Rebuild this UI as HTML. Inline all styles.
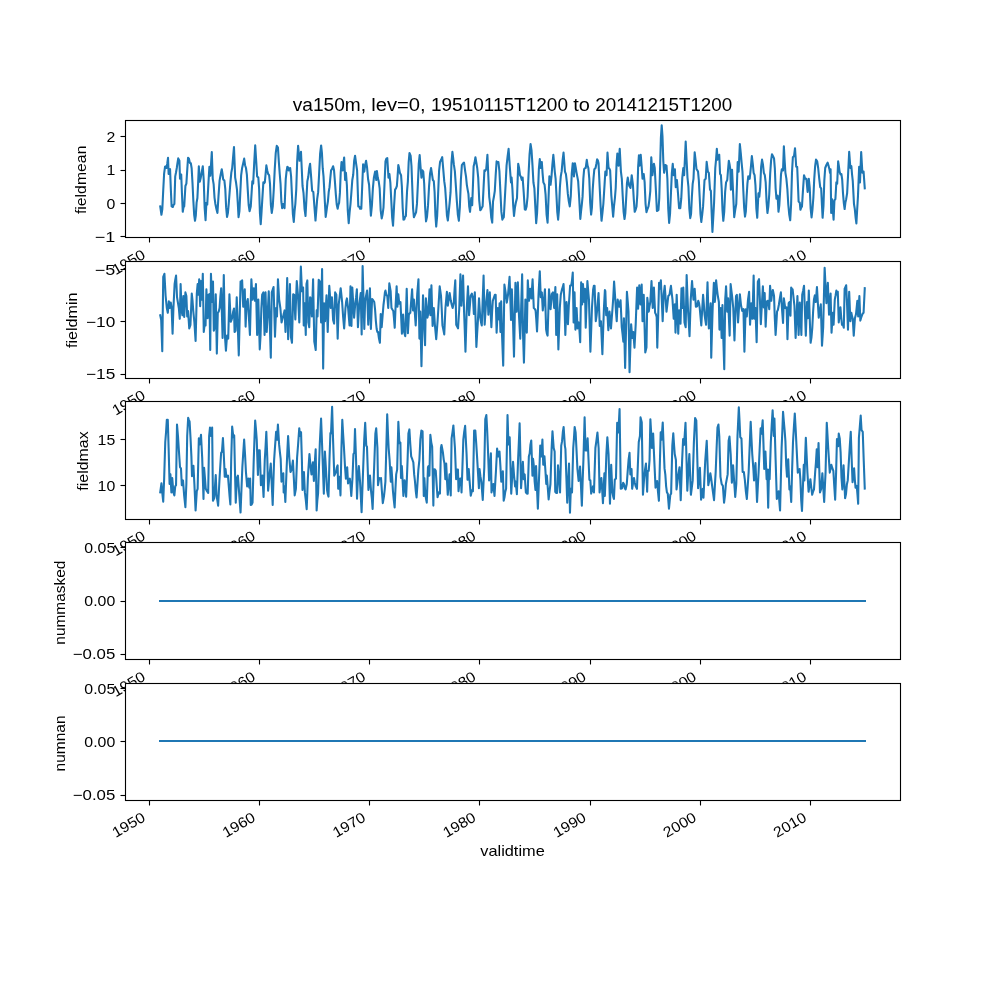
<!DOCTYPE html>
<html lang="en"><head><meta charset="utf-8"><title>va150m</title>
<style>
html,body{margin:0;padding:0;background:#fff;}
body{width:1000px;height:1000px;overflow:hidden;}
svg{display:block;}
text{font-family:"Liberation Sans",sans-serif;fill:#000;}
.g{filter:grayscale(1);}
.t{font-size:14.6px;}
.tt{font-size:17.5px;}
.sp{fill:none;stroke:#000;stroke-width:1.111;stroke-linecap:square;}
.tk{stroke:#000;stroke-width:1.111;}
.ln{fill:none;stroke:#1f77b4;stroke-width:2.083;stroke-linejoin:round;stroke-linecap:square;}
</style></head>
<body>
<svg width="1000" height="1000" viewBox="0 0 1000 1000">
<rect x="0" y="0" width="1000" height="1000" fill="#fff"/>
<g>
<rect x="125.00" y="120.00" width="775.00" height="117.24" fill="#fff"/>
<polyline class="ln" points="160.23,206.40 161.43,214.80 162.33,209.06 163.23,190.25 164.12,173.52 165.02,166.80 165.74,166.43 166.46,168.00 167.24,163.68 168.02,157.80 168.62,174.00 169.34,169.53 170.06,169.20 170.84,189.37 171.62,206.40 172.82,207.00 173.60,204.81 174.38,204.00 175.22,176.40 176.00,172.49 176.78,168.00 177.50,162.98 178.22,158.40 179.41,160.80 180.01,178.80 181.21,174.60 181.99,194.52 182.77,211.80 183.49,207.25 184.21,206.40 185.41,186.00 186.37,183.60 187.21,170.41 188.05,157.80 188.97,158.79 189.89,162.89 190.81,163.20 191.65,168.25 192.49,182.70 193.33,200.36 194.17,214.80 195.00,220.80 195.80,215.70 196.60,202.63 197.40,198.00 198.12,183.13 198.84,166.20 199.80,181.80 200.70,178.11 201.60,172.80 202.80,166.20 203.72,179.98 204.64,207.69 205.56,220.20 206.40,202.80 207.24,204.60 208.32,185.08 209.40,166.80 210.35,175.80 211.07,163.87 211.79,152.16 212.75,178.80 213.63,184.18 214.51,197.54 215.39,204.00 216.41,208.98 217.43,213.00 218.51,196.18 219.59,180.60 220.67,174.54 221.75,169.20 222.47,173.68 223.19,179.40 224.39,180.60 225.27,188.81 226.14,207.38 227.02,216.96 227.88,213.03 228.74,203.87 229.60,192.69 230.46,181.57 231.32,172.59 232.18,168.00 233.08,157.33 233.98,147.00 235.18,177.60 236.08,182.80 236.98,189.60 237.76,202.73 238.54,217.20 239.41,211.43 240.28,192.95 241.14,175.32 242.01,168.60 243.09,163.79 244.17,158.64 245.07,165.21 245.97,168.00 246.87,174.59 247.77,190.16 248.67,204.99 249.57,211.20 250.77,206.40 251.55,193.48 252.33,181.20 253.17,183.60 254.19,163.37 255.21,145.20 256.17,160.49 257.12,176.40 258.32,177.60 259.12,188.90 259.92,213.20 260.72,224.16 261.44,213.64 262.16,201.60 263.36,182.40 264.08,183.24 264.80,182.40 265.58,174.14 266.36,165.36 267.26,170.48 268.16,174.00 269.12,175.20 270.00,183.85 270.88,204.80 271.76,213.00 272.75,206.41 273.75,189.80 274.75,169.17 275.75,152.78 276.75,145.80 277.95,147.60 278.85,161.82 279.75,174.00 280.55,183.81 281.35,201.73 282.15,208.20 283.35,204.00 284.55,208.20 285.75,178.80 286.53,171.54 287.31,166.80 288.02,167.30 288.74,170.40 289.46,168.75 290.18,168.00 291.08,176.24 291.98,195.79 292.88,214.18 293.78,222.00 294.56,211.18 295.34,204.00 296.26,189.36 297.18,160.90 298.10,145.80 298.82,153.51 299.54,160.80 300.26,156.99 300.98,151.80 301.76,168.70 302.54,186.00 303.53,193.22 304.53,208.77 305.53,216.00 306.43,198.97 307.33,181.20 308.25,177.09 309.17,168.20 310.09,163.80 311.11,176.70 312.13,190.80 313.33,192.00 314.41,206.62 315.49,220.56 316.33,209.99 317.17,199.20 318.16,192.15 319.14,173.40 320.13,153.67 321.12,145.44 321.92,152.74 322.72,168.19 323.52,176.40 324.60,197.06 325.68,216.96 326.40,211.75 327.12,206.40 327.92,201.35 328.72,191.98 329.52,187.20 330.30,178.24 331.08,170.40 332.10,168.93 333.12,166.20 334.03,170.27 334.94,181.84 335.85,194.63 336.76,204.87 337.67,208.80 338.39,204.81 339.11,202.80 339.91,192.89 340.71,172.73 341.51,162.00 342.71,170.40 343.43,163.06 344.15,157.44 345.11,180.00 345.95,172.80 346.87,185.00 347.79,210.79 348.71,223.20 349.60,212.36 350.50,204.00 351.40,192.28 352.30,180.00 353.22,174.78 354.14,160.97 355.06,155.76 356.08,163.40 357.10,170.40 358.30,206.40 359.20,206.42 360.10,208.80 361.30,208.80 362.20,186.57 363.10,164.40 364.30,171.60 365.19,164.75 366.09,160.80 367.09,167.73 368.09,179.25 369.09,184.80 369.99,200.26 370.89,215.76 371.89,205.65 372.89,188.16 373.89,177.60 375.09,171.60 376.29,180.00 376.89,171.00 377.79,177.87 378.69,181.20 379.69,188.71 380.68,210.33 381.68,218.40 382.58,214.46 383.48,207.60 384.48,184.80 385.48,161.40 386.38,158.70 387.28,158.16 388.48,177.60 389.44,174.00 390.34,182.52 391.24,199.64 392.14,217.32 393.04,225.60 394.06,206.49 395.08,189.60 395.98,188.30 396.87,186.00 397.59,176.21 398.31,165.00 399.09,168.34 399.87,172.80 401.07,175.20 401.87,186.62 402.67,207.62 403.47,219.60 404.27,219.43 405.07,216.93 405.87,216.00 407.07,190.80 407.87,181.31 408.67,162.23 409.47,153.00 410.67,156.00 411.48,165.96 412.28,187.28 413.09,208.50 413.90,217.20 414.98,214.92 416.06,212.40 416.96,203.88 417.86,184.34 418.76,163.96 419.66,155.16 420.56,166.99 421.46,177.60 422.42,170.40 423.26,171.60 424.18,183.61 425.10,206.92 426.02,221.40 427.02,216.73 428.03,205.15 429.04,186.62 430.05,173.51 431.05,168.00 431.95,173.88 432.85,180.00 433.81,181.20 434.61,192.28 435.41,215.38 436.21,226.56 437.17,215.87 438.13,193.81 439.09,170.79 440.05,162.00 441.13,159.82 442.21,157.20 443.22,168.93 444.24,181.20 445.14,187.55 446.04,200.72 446.94,215.54 447.84,220.56 448.74,211.87 449.64,202.80 450.56,192.19 451.48,162.68 452.40,151.80 453.12,157.52 453.84,164.40 454.85,171.13 455.85,185.92 456.86,201.33 457.87,214.92 458.87,220.80 459.87,206.83 460.87,179.97 461.87,165.00 462.95,163.54 464.03,162.60 465.23,171.60 466.03,176.65 466.83,184.87 467.63,189.60 468.43,193.93 469.23,206.60 470.03,211.80 471.23,198.00 472.19,205.20 472.91,186.15 473.63,166.20 474.52,162.86 475.42,157.20 476.32,162.50 477.22,168.00 478.22,177.87 479.22,200.32 480.22,210.24 481.02,209.51 481.82,207.60 482.62,206.40 483.52,188.33 484.42,170.40 485.32,170.84 486.22,169.20 487.42,154.80 488.32,176.13 489.22,196.80 490.21,204.88 491.21,217.23 492.21,222.60 493.01,201.60 493.91,196.79 494.81,190.80 495.71,174.64 496.61,161.40 497.51,162.24 498.41,162.00 499.40,171.02 500.39,191.53 501.38,211.90 502.37,219.60 503.09,218.04 503.81,217.20 505.00,195.60 505.78,181.34 506.56,165.60 507.58,156.69 508.60,148.80 509.80,166.80 511.00,182.40 511.60,177.60 512.40,188.83 513.20,205.33 514.00,216.00 514.90,207.82 515.80,202.80 517.00,198.00 518.20,163.80 519.10,168.01 520.00,175.20 520.89,176.80 521.79,180.00 522.63,177.60 523.71,192.49 524.79,209.40 525.69,209.66 526.59,206.40 527.58,196.75 528.57,173.99 529.56,154.36 530.55,144.00 531.51,150.13 532.47,165.09 533.43,182.53 534.39,188.40 535.29,206.36 536.18,223.20 537.08,213.18 537.98,192.37 538.88,168.75 539.78,159.00 540.74,168.00 541.82,162.00 542.60,173.66 543.38,182.40 544.58,184.80 545.58,194.58 546.58,214.68 547.58,222.60 548.48,199.60 549.38,176.40 550.58,184.80 551.49,176.30 552.41,164.41 553.33,154.80 554.05,162.71 554.77,171.60 555.61,178.62 556.45,194.97 557.29,212.22 558.13,219.60 559.01,209.16 559.89,187.24 560.77,176.40 561.69,171.13 562.61,160.12 563.53,152.64 564.25,162.01 564.97,171.60 565.93,174.14 566.88,182.41 567.84,193.93 568.80,201.24 569.76,206.40 570.76,196.48 571.76,173.41 572.76,163.20 573.96,176.40 574.92,163.20 575.64,167.12 576.36,171.60 577.26,176.40 578.16,181.20 579.24,198.84 580.32,219.00 581.04,211.32 581.76,205.20 582.55,196.92 583.35,178.64 584.15,169.20 584.93,168.20 585.71,168.00 586.79,159.84 587.57,165.55 588.35,168.00 589.27,178.31 590.19,202.76 591.11,214.56 591.92,207.55 592.73,189.37 593.54,177.75 594.35,169.20 595.55,168.00 596.33,164.01 597.11,159.36 597.83,160.34 598.54,163.20 599.74,188.40 600.64,206.45 601.54,220.80 602.44,212.93 603.34,204.00 604.34,188.19 605.34,171.60 606.54,175.20 607.50,152.64 608.58,168.00 609.36,168.65 610.14,170.40 611.34,195.60 612.24,206.20 613.14,216.60 614.03,205.93 614.93,198.00 615.73,187.76 616.53,164.22 617.33,153.60 618.53,165.60 619.73,148.80 620.93,171.60 621.83,178.83 622.73,196.38 623.63,212.15 624.53,219.00 625.34,213.03 626.15,198.55 626.96,183.15 627.77,177.60 628.55,182.55 629.32,186.00 630.52,187.80 631.72,175.20 632.92,184.80 633.82,199.69 634.72,211.80 635.62,209.78 636.52,206.40 637.32,194.61 638.12,167.19 638.92,155.40 639.52,165.60 640.72,154.80 641.62,166.02 642.52,178.80 643.72,174.00 644.63,182.12 645.55,203.85 646.47,212.16 647.49,209.05 648.51,206.40 649.41,199.86 650.31,190.80 651.27,157.20 652.47,175.20 653.19,168.80 653.91,163.80 654.75,168.00 655.83,189.09 656.91,210.96 657.69,210.57 658.47,210.00 659.28,198.05 660.08,167.45 660.89,137.77 661.70,125.33 662.50,136.66 663.30,161.12 664.10,172.80 665.30,165.00 666.50,165.60 667.38,178.75 668.26,208.88 669.14,222.96 670.04,213.92 670.94,193.33 671.84,173.12 672.74,163.80 673.70,175.20 674.90,169.20 675.73,187.20 676.93,180.00 678.01,193.49 679.09,208.20 680.29,208.20 681.29,198.21 682.29,177.65 683.29,168.00 684.13,175.20 684.91,158.78 685.69,141.60 686.59,160.31 687.49,177.60 688.41,186.75 689.33,208.68 690.25,218.16 691.05,214.12 691.86,197.16 692.67,183.96 693.48,178.80 694.68,152.40 695.58,160.01 696.48,169.20 697.26,170.15 698.04,171.60 698.85,180.62 699.66,196.81 700.47,213.81 701.28,222.00 702.18,214.76 703.08,206.40 703.80,192.66 704.52,180.00 705.72,178.80 706.67,161.76 707.87,171.60 708.83,172.80 710.03,189.60 710.87,190.80 711.65,212.51 712.43,231.91 713.25,217.77 714.07,202.80 715.27,168.00 716.05,159.65 716.83,148.80 717.67,159.60 718.45,156.60 719.23,154.80 720.07,174.00 720.91,175.20 721.71,189.18 722.50,210.29 723.30,220.80 724.22,211.91 725.14,191.83 726.06,182.40 727.26,180.00 728.04,169.75 728.82,160.80 729.54,164.22 730.26,169.20 730.86,189.60 732.06,169.80 733.14,193.38 734.22,217.20 735.24,209.88 736.26,204.00 736.98,183.25 737.69,162.00 738.65,171.60 739.85,144.00 740.75,152.86 741.65,163.20 742.49,171.77 743.33,190.76 744.17,207.95 745.01,216.60 745.82,211.64 746.63,196.29 747.44,183.47 748.25,176.40 748.97,177.99 749.69,178.80 750.77,168.41 751.85,156.00 752.75,163.50 753.64,172.80 754.60,175.20 755.48,185.61 756.36,208.60 757.24,217.80 758.44,193.20 759.28,196.80 760.20,187.07 761.12,166.94 762.04,159.60 762.94,164.45 763.84,172.80 764.80,175.20 765.68,182.27 766.56,201.77 767.44,213.00 768.35,206.46 769.26,194.09 770.17,173.87 771.08,160.66 771.99,154.20 773.01,156.20 774.03,158.40 774.83,168.33 775.63,188.53 776.43,198.60 777.63,195.60 778.47,211.80 779.31,205.25 780.15,190.92 780.99,174.53 781.83,169.20 783.03,170.40 783.87,146.40 784.64,160.51 785.42,172.80 786.38,178.60 787.34,188.80 788.30,204.75 789.26,214.60 790.22,220.20 791.10,204.17 791.98,172.88 792.86,157.20 794.06,156.00 795.02,148.20 796.22,166.80 797.18,166.80 797.90,184.03 798.62,201.60 799.81,202.80 800.41,209.76 801.19,207.68 801.97,206.40 802.99,190.19 804.01,175.20 805.21,178.80 806.41,178.80 807.61,192.00 808.81,178.80 809.73,187.83 810.65,208.75 811.57,217.44 812.45,209.62 813.34,198.02 814.23,179.12 815.12,166.32 816.00,159.60 817.20,161.40 818.20,168.23 819.20,178.33 820.20,187.20 821.16,188.40 821.88,203.63 822.60,217.80 823.47,205.80 824.33,180.31 825.20,168.00 826.40,165.00 827.60,162.60 828.50,165.48 829.40,169.20 830.00,172.80 830.60,169.20 831.19,213.00 832.15,199.20 832.87,210.17 833.59,219.60 834.43,200.40 835.39,199.20 836.35,182.40 837.19,183.60 838.15,161.40 838.87,166.13 839.59,171.60 840.49,174.45 841.39,174.00 842.20,179.76 843.01,193.44 843.82,203.08 844.63,209.04 845.41,202.54 846.18,199.20 847.14,193.20 848.16,173.14 849.18,151.80 850.38,168.00 851.34,166.20 852.06,174.47 852.78,181.20 853.98,204.00 854.78,208.83 855.58,217.26 856.38,223.44 857.16,209.72 857.94,196.80 859.14,166.80 859.98,182.40 861.18,152.16 862.37,172.80 863.57,171.60 864.77,188.40"/>
<line class="tk" x1="149.5" y1="237.50" x2="149.5" y2="242.50"/>
<line class="tk" x1="259.5" y1="237.50" x2="259.5" y2="242.50"/>
<line class="tk" x1="369.5" y1="237.50" x2="369.5" y2="242.50"/>
<line class="tk" x1="479.5" y1="237.50" x2="479.5" y2="242.50"/>
<line class="tk" x1="590.5" y1="237.50" x2="590.5" y2="242.50"/>
<line class="tk" x1="700.5" y1="237.50" x2="700.5" y2="242.50"/>
<line class="tk" x1="810.5" y1="237.50" x2="810.5" y2="242.50"/>
<line class="tk" x1="120.50" y1="236.5" x2="125.50" y2="236.5"/>
<line class="tk" x1="120.50" y1="203.5" x2="125.50" y2="203.5"/>
<line class="tk" x1="120.50" y1="170.5" x2="125.50" y2="170.5"/>
<line class="tk" x1="120.50" y1="136.5" x2="125.50" y2="136.5"/>
<rect class="sp" x="125.5" y="120.5" width="775.0" height="117.0"/>
<g class="g">
<text class="tt" y="110.9"><tspan x="292.75" textLength="73.20" lengthAdjust="spacingAndGlyphs">va150m,</tspan> <tspan x="371.24" textLength="54.45" lengthAdjust="spacingAndGlyphs">lev=0,</tspan> <tspan x="430.97" textLength="137.02" lengthAdjust="spacingAndGlyphs">19510115T1200</tspan> <tspan x="573.27" textLength="16.68" lengthAdjust="spacingAndGlyphs">to</tspan> <tspan x="595.23" textLength="137.02" lengthAdjust="spacingAndGlyphs">20141215T1200</tspan></text>
<text class="t" transform="translate(115.70,275.14) rotate(-30)" textLength="35.3" lengthAdjust="spacingAndGlyphs">1950</text>
<text class="t" transform="translate(225.92,275.14) rotate(-30)" textLength="35.3" lengthAdjust="spacingAndGlyphs">1960</text>
<text class="t" transform="translate(336.17,275.14) rotate(-30)" textLength="35.3" lengthAdjust="spacingAndGlyphs">1970</text>
<text class="t" transform="translate(446.38,275.14) rotate(-30)" textLength="35.3" lengthAdjust="spacingAndGlyphs">1980</text>
<text class="t" transform="translate(556.63,275.14) rotate(-30)" textLength="35.3" lengthAdjust="spacingAndGlyphs">1990</text>
<text class="t" transform="translate(666.85,275.14) rotate(-30)" textLength="35.3" lengthAdjust="spacingAndGlyphs">2000</text>
<text class="t" transform="translate(777.09,275.14) rotate(-30)" textLength="35.3" lengthAdjust="spacingAndGlyphs">2010</text>
<text class="t" x="115.28" y="241.99" text-anchor="end" textLength="20.47" lengthAdjust="spacingAndGlyphs">−1</text>
<text class="t" x="115.28" y="208.57" text-anchor="end" textLength="8.83" lengthAdjust="spacingAndGlyphs">0</text>
<text class="t" x="115.28" y="175.15" text-anchor="end" textLength="8.83" lengthAdjust="spacingAndGlyphs">1</text>
<text class="t" x="115.28" y="141.72" text-anchor="end" textLength="8.83" lengthAdjust="spacingAndGlyphs">2</text>
<text class="t" transform="translate(86.00,179.82) rotate(-90)" text-anchor="middle" textLength="68.50" lengthAdjust="spacingAndGlyphs">fieldmean</text>
</g>
</g>
<g>
<rect x="125.00" y="260.69" width="775.00" height="117.24" fill="#fff"/>
<polyline class="ln" points="160.23,315.20 161.19,320.00 162.27,351.20 163.23,276.80 164.42,273.80 165.62,296.00 166.82,308.00 167.78,312.80 168.86,301.40 169.82,308.00 170.78,302.60 171.62,308.00 172.58,333.80 173.42,308.00 174.62,284.00 175.34,279.47 176.06,275.60 177.02,297.20 177.92,302.55 178.82,308.00 179.77,318.80 180.61,284.00 181.57,310.40 182.41,315.20 183.37,296.00 184.21,317.00 185.41,292.40 186.37,296.00 187.21,316.40 188.05,311.00 189.25,328.40 190.45,324.80 191.77,293.60 192.49,300.29 193.21,310.40 194.40,322.40 195.60,341.00 196.80,293.60 197.64,284.00 198.36,294.80 199.20,279.20 200.16,306.20 201.00,281.00 201.96,299.60 202.80,273.80 203.76,332.00 204.60,324.80 205.56,325.40 206.40,289.40 207.60,318.20 208.44,294.80 209.40,294.20 210.23,350.00 210.95,273.80 212.03,302.00 212.99,281.60 213.83,330.80 214.79,327.20 215.75,294.20 216.83,353.60 217.79,312.80 218.69,311.71 219.59,308.00 220.37,296.67 221.15,288.20 221.87,312.43 222.59,338.00 223.79,275.00 224.99,336.80 225.94,350.60 227.02,335.60 228.22,338.60 229.42,294.20 230.74,321.80 231.46,320.10 232.18,317.60 233.08,312.10 233.98,308.60 234.58,332.00 235.54,330.80 236.74,297.20 237.76,325.45 238.78,355.40 239.68,317.77 240.58,281.60 241.35,281.44 242.13,280.40 243.21,306.80 243.99,299.93 244.77,289.40 245.61,326.60 246.57,303.20 247.77,299.00 248.85,317.03 249.93,335.00 250.65,306.21 251.37,279.20 252.57,299.60 253.77,288.20 254.97,300.80 255.93,284.00 257.12,335.00 258.32,299.60 259.04,324.93 259.76,349.40 260.56,335.45 261.36,308.26 262.16,294.80 263.36,292.40 264.56,335.00 265.52,292.40 266.72,332.00 267.74,312.54 268.76,291.20 269.78,323.90 270.80,357.80 271.76,292.40 272.65,289.71 273.55,287.00 274.27,311.20 274.99,336.80 276.15,308.00 276.99,316.40 277.95,279.20 279.15,299.60 280.35,308.00 281.55,322.40 282.33,319.27 283.11,316.40 283.83,313.61 284.55,310.40 285.51,332.00 286.35,310.40 287.19,278.00 288.14,339.20 289.10,308.00 289.94,284.00 290.90,336.80 291.98,342.80 293.18,294.20 294.14,294.80 295.34,319.40 296.06,299.41 296.78,281.00 297.98,294.80 299.30,322.40 300.08,294.23 300.86,266.60 301.94,291.20 303.13,287.60 303.73,325.40 304.69,303.20 305.77,335.00 306.49,284.00 307.33,280.40 308.29,322.40 309.25,327.20 310.09,297.20 310.93,299.00 311.89,316.40 313.09,279.20 314.29,341.60 315.01,345.61 315.73,350.00 316.69,310.40 317.53,316.40 318.72,279.80 319.92,281.60 321.12,322.40 322.08,269.00 323.16,368.60 324.12,303.20 325.08,321.20 325.80,307.79 326.52,295.40 327.72,332.00 328.50,307.95 329.28,285.80 330.00,295.76 330.72,308.00 331.92,297.20 333.12,320.00 334.07,323.60 335.15,292.40 336.35,294.80 337.67,338.60 338.75,304.40 339.71,296.18 340.67,288.20 341.39,294.88 342.11,302.00 343.13,316.99 344.15,328.40 345.47,308.00 346.19,301.25 346.91,298.40 348.11,308.00 348.83,316.79 349.55,325.40 350.50,286.40 351.46,326.00 352.30,287.60 353.20,302.90 354.10,317.60 355.30,303.20 356.08,297.39 356.86,289.40 357.94,327.20 359.14,305.60 359.92,299.70 360.70,293.00 361.66,334.40 362.62,266.02 363.46,296.82 364.30,329.00 365.13,300.80 366.09,295.70 367.05,290.60 368.25,324.80 369.09,306.93 369.93,288.20 370.89,329.00 372.09,299.00 373.17,300.25 374.25,302.00 375.05,309.28 375.85,320.84 376.65,329.00 377.37,331.88 378.09,332.00 378.99,338.57 379.89,342.80 380.72,314.00 381.68,327.20 382.58,315.83 383.48,305.00 384.20,299.19 384.92,292.40 385.48,290.60 386.32,294.80 387.28,296.00 388.24,308.00 389.32,283.40 390.64,291.20 391.48,308.00 392.38,309.54 393.28,311.00 394.00,318.74 394.72,327.80 395.68,304.40 396.63,286.40 397.47,306.80 398.31,294.20 399.27,303.80 400.47,302.00 401.19,317.97 401.91,333.80 403.11,314.60 404.07,332.00 405.27,336.20 405.99,313.30 406.71,288.80 407.91,333.20 408.87,314.60 409.59,313.40 410.31,312.80 411.21,300.80 412.10,289.40 413.06,310.40 413.90,299.60 414.80,312.44 415.70,325.40 416.48,309.85 417.26,293.60 418.46,279.20 419.42,338.60 420.26,311.60 421.46,366.20 422.24,331.82 423.02,295.40 423.86,316.40 425.06,345.20 425.90,298.40 426.68,307.49 427.45,317.60 428.41,312.80 429.49,289.40 430.45,315.20 431.41,285.20 432.61,326.00 433.81,308.00 434.89,324.80 436.21,339.20 436.93,330.01 437.65,320.00 438.67,303.37 439.69,286.40 441.01,296.00 441.73,309.21 442.45,325.40 443.34,329.56 444.24,334.40 445.44,308.00 446.16,299.79 446.88,291.80 447.84,305.60 448.74,299.27 449.64,293.00 450.84,300.80 451.74,304.66 452.64,308.00 453.84,302.60 454.56,289.87 455.28,280.40 456.24,324.80 457.14,326.64 458.04,328.40 459.23,309.20 460.43,274.40 461.39,305.60 462.23,290.06 463.07,275.60 464.03,310.40 464.75,329.95 465.47,351.80 466.79,308.00 467.99,286.40 469.07,315.20 469.85,306.02 470.63,296.00 471.83,293.60 473.03,298.40 473.86,314.00 474.82,292.40 475.60,320.29 476.38,347.00 477.10,334.18 477.82,322.40 479.02,298.40 480.22,317.60 481.00,322.17 481.78,325.40 482.68,300.19 483.58,275.60 484.66,324.80 485.86,305.60 486.64,297.85 487.42,290.00 488.38,314.60 489.10,302.62 489.81,292.40 490.59,311.07 491.37,327.20 492.09,311.87 492.81,300.80 493.83,297.73 494.85,294.80 495.65,294.80 496.61,332.60 497.81,308.00 499.01,319.40 499.61,303.20 500.45,332.00 501.17,301.40 502.01,334.40 503.21,365.60 504.41,284.60 505.60,292.40 506.80,302.60 508.00,294.80 508.78,286.36 509.56,276.80 510.28,296.77 511.00,320.00 511.84,289.40 513.04,322.40 514.00,356.60 514.72,319.55 515.44,282.80 516.64,311.60 517.84,282.20 519.04,316.40 520.24,338.60 521.19,306.44 522.15,274.40 522.99,333.20 523.95,362.60 524.67,331.76 525.39,299.60 526.11,317.10 526.83,332.60 527.79,280.40 528.99,300.80 530.19,288.80 531.39,298.40 532.59,279.20 533.79,308.00 534.69,308.88 535.59,310.40 536.30,319.79 537.02,331.40 537.80,313.59 538.58,293.60 539.78,271.40 540.74,297.20 541.82,292.40 542.78,310.40 543.98,299.60 544.94,289.40 546.14,329.60 546.86,333.57 547.58,335.60 548.30,312.13 549.02,289.40 549.80,299.58 550.58,309.20 551.77,294.20 552.97,292.40 554.17,308.00 555.37,287.00 556.21,335.00 557.17,294.20 558.37,349.40 559.09,329.01 559.81,308.00 560.77,294.80 561.97,289.40 562.75,287.15 563.53,284.00 564.37,300.80 565.33,335.00 566.53,302.00 567.24,313.26 567.96,324.20 568.80,305.60 570.12,285.80 571.32,285.20 572.04,280.03 572.76,272.60 573.60,322.40 574.56,292.40 575.40,329.60 576.60,308.00 577.56,328.40 578.76,322.40 579.48,330.91 580.20,342.20 581.16,282.20 582.12,304.40 582.95,284.00 584.15,302.00 584.99,288.80 585.71,327.80 586.55,305.23 587.39,281.00 588.17,290.60 588.95,299.60 589.67,325.53 590.39,351.80 591.17,330.84 591.95,308.00 593.15,289.40 593.87,285.73 594.59,285.80 595.79,321.20 596.57,315.53 597.35,308.00 598.54,293.00 599.74,326.00 600.94,321.20 601.66,338.01 602.38,354.20 603.16,330.19 603.94,308.00 604.90,290.00 605.34,291.20 606.18,315.20 607.14,308.00 608.34,330.20 609.54,311.60 610.26,320.35 610.98,328.40 611.76,317.96 612.54,308.00 613.32,296.87 614.09,281.60 615.29,299.60 616.01,311.87 616.73,321.20 617.69,299.60 618.41,303.55 619.13,306.80 619.85,302.92 620.57,300.20 621.77,327.20 622.55,333.93 623.33,341.60 623.93,318.20 625.13,368.00 626.03,329.64 626.93,291.80 627.71,301.25 628.49,311.60 629.56,372.20 630.34,347.48 631.12,324.20 632.32,338.00 633.28,332.00 634.48,347.60 635.68,324.80 636.40,305.73 637.12,287.60 638.08,308.60 639.28,285.20 640.48,304.40 641.68,284.60 642.52,321.20 643.72,294.80 644.49,323.38 645.27,352.40 646.47,347.60 647.31,297.80 648.03,304.29 648.75,311.60 649.53,306.24 650.31,302.00 651.51,281.00 652.71,308.00 653.91,287.60 655.11,312.80 655.89,314.16 656.67,317.00 657.27,347.60 658.17,317.24 659.07,282.80 659.91,288.80 660.86,280.40 661.76,299.62 662.66,321.20 663.74,294.20 664.70,285.80 665.60,297.88 666.50,311.60 667.40,304.15 668.30,296.00 669.50,294.80 670.22,290.04 670.94,285.80 671.72,293.04 672.50,299.60 673.70,318.80 674.90,304.40 675.49,332.60 676.69,294.80 677.47,314.94 678.25,333.80 679.09,310.40 679.81,318.01 680.53,323.60 681.49,288.20 682.69,308.00 683.29,287.60 684.49,322.40 685.69,327.20 686.65,275.00 687.37,293.90 688.09,311.60 688.81,323.10 689.53,336.20 690.73,299.60 692.04,281.00 692.76,291.19 693.48,299.60 694.68,288.80 695.88,306.80 697.08,306.20 698.28,300.80 699.00,302.99 699.72,308.00 700.50,316.61 701.28,325.40 702.18,309.70 703.08,294.80 703.80,303.55 704.52,314.00 705.30,319.87 706.08,324.80 706.79,303.35 707.51,282.20 708.83,328.40 709.73,316.62 710.63,303.20 711.23,357.80 711.95,331.71 712.67,308.00 713.87,282.80 714.83,302.00 715.18,297.80 716.11,280.40 716.89,288.28 717.67,294.80 718.87,302.00 719.47,329.60 720.67,308.00 721.63,338.00 722.46,305.00 723.30,338.00 724.26,369.20 725.22,299.60 726.06,286.40 727.26,311.60 728.10,298.40 728.88,317.40 729.66,335.60 730.62,284.00 731.34,290.10 732.06,296.00 733.26,308.00 734.46,340.40 735.24,317.06 736.02,296.00 736.86,294.80 738.05,322.40 738.95,308.10 739.85,294.20 741.05,305.60 742.25,311.00 743.45,309.20 744.41,351.80 745.61,309.20 746.81,316.40 748.01,299.60 749.09,291.80 750.05,324.80 751.25,303.20 752.45,318.80 753.64,275.60 754.48,318.80 755.44,308.00 756.64,342.20 757.84,281.60 759.04,279.20 759.94,300.46 760.84,324.20 761.80,305.60 762.88,286.40 763.84,307.40 764.68,293.00 765.64,326.60 766.84,301.40 768.04,300.80 769.23,309.20 770.07,285.80 771.27,300.80 772.05,293.73 772.83,290.00 774.03,296.00 774.81,318.12 775.59,335.00 776.31,324.08 777.03,311.60 777.93,309.73 778.83,305.00 779.85,298.36 780.87,292.40 781.95,308.26 783.03,323.00 783.87,298.40 785.18,308.00 785.90,308.26 786.62,307.40 787.46,339.20 788.66,303.20 789.62,302.00 790.46,315.80 791.18,287.60 791.90,288.98 792.62,289.40 793.52,297.50 794.42,305.60 795.62,338.00 796.52,316.82 797.42,296.00 798.62,335.00 799.81,302.60 800.59,317.14 801.37,335.00 802.21,294.80 803.11,290.79 804.01,285.80 804.91,311.04 805.81,335.60 807.01,302.00 807.85,318.20 808.81,290.60 809.71,317.59 810.61,342.80 811.45,337.61 812.29,328.02 813.13,311.22 813.97,299.37 814.81,295.40 815.76,302.00 816.96,287.00 817.86,303.05 818.76,317.60 819.78,310.63 820.80,304.40 822.00,345.80 823.20,327.20 823.92,296.50 824.64,267.80 825.52,285.60 826.40,303.20 827.12,293.61 827.84,282.80 829.04,314.60 829.82,304.29 830.60,293.60 831.55,332.60 832.75,312.80 833.59,324.80 834.79,299.60 835.57,295.50 836.35,290.60 837.07,294.49 837.79,291.80 838.75,322.40 839.59,315.56 840.43,307.40 841.21,317.33 841.99,324.80 842.89,324.71 843.79,327.80 844.63,288.80 845.41,287.29 846.18,285.20 847.02,303.20 847.98,329.60 849.18,291.80 850.38,321.20 851.34,312.80 852.06,316.42 852.78,318.80 853.74,335.60 854.94,318.20 856.02,314.00 857.34,300.80 858.18,316.40 859.38,296.00 860.34,320.60 861.06,317.91 861.77,315.80 862.67,313.60 863.57,312.80 864.77,288.20"/>
<line class="tk" x1="149.5" y1="378.50" x2="149.5" y2="383.50"/>
<line class="tk" x1="259.5" y1="378.50" x2="259.5" y2="383.50"/>
<line class="tk" x1="369.5" y1="378.50" x2="369.5" y2="383.50"/>
<line class="tk" x1="479.5" y1="378.50" x2="479.5" y2="383.50"/>
<line class="tk" x1="590.5" y1="378.50" x2="590.5" y2="383.50"/>
<line class="tk" x1="700.5" y1="378.50" x2="700.5" y2="383.50"/>
<line class="tk" x1="810.5" y1="378.50" x2="810.5" y2="383.50"/>
<line class="tk" x1="120.50" y1="374.5" x2="125.50" y2="374.5"/>
<line class="tk" x1="120.50" y1="321.5" x2="125.50" y2="321.5"/>
<line class="tk" x1="120.50" y1="269.5" x2="125.50" y2="269.5"/>
<rect class="sp" x="125.5" y="261.5" width="775.0" height="117.0"/>
<g class="g">
<text class="t" transform="translate(115.70,415.83) rotate(-30)" textLength="35.3" lengthAdjust="spacingAndGlyphs">1950</text>
<text class="t" transform="translate(225.92,415.83) rotate(-30)" textLength="35.3" lengthAdjust="spacingAndGlyphs">1960</text>
<text class="t" transform="translate(336.17,415.83) rotate(-30)" textLength="35.3" lengthAdjust="spacingAndGlyphs">1970</text>
<text class="t" transform="translate(446.38,415.83) rotate(-30)" textLength="35.3" lengthAdjust="spacingAndGlyphs">1980</text>
<text class="t" transform="translate(556.63,415.83) rotate(-30)" textLength="35.3" lengthAdjust="spacingAndGlyphs">1990</text>
<text class="t" transform="translate(666.85,415.83) rotate(-30)" textLength="35.3" lengthAdjust="spacingAndGlyphs">2000</text>
<text class="t" transform="translate(777.09,415.83) rotate(-30)" textLength="35.3" lengthAdjust="spacingAndGlyphs">2010</text>
<text class="t" x="115.28" y="379.04" text-anchor="end" textLength="29.30" lengthAdjust="spacingAndGlyphs">−15</text>
<text class="t" x="115.28" y="326.90" text-anchor="end" textLength="29.30" lengthAdjust="spacingAndGlyphs">−10</text>
<text class="t" x="115.28" y="274.75" text-anchor="end" textLength="20.47" lengthAdjust="spacingAndGlyphs">−5</text>
<text class="t" transform="translate(77.30,320.31) rotate(-90)" text-anchor="middle" textLength="55.50" lengthAdjust="spacingAndGlyphs">fieldmin</text>
</g>
</g>
<g>
<rect x="125.00" y="401.38" width="775.00" height="117.24" fill="#fff"/>
<polyline class="ln" points="160.23,492.40 161.43,483.40 162.38,493.60 163.22,501.76 164.18,478.00 165.26,442.00 166.04,432.33 166.82,419.80 167.78,419.80 168.62,448.00 169.58,484.00 170.42,474.40 171.38,492.40 172.22,478.00 173.41,492.40 174.37,495.40 175.21,486.40 176.05,485.20 177.01,424.60 177.97,436.00 178.99,451.95 180.01,467.20 180.97,468.40 181.81,485.20 183.00,480.40 184.20,496.00 185.40,507.16 186.36,484.00 187.20,436.00 188.16,417.76 188.88,419.76 189.60,421.60 190.50,437.51 191.40,456.40 192.00,476.20 192.71,470.76 193.43,465.76 194.39,484.00 195.59,510.40 196.79,491.20 197.63,488.80 198.83,438.40 199.79,444.40 200.99,434.80 202.19,457.60 203.02,484.00 203.50,499.00 204.10,467.80 204.94,478.02 205.78,488.80 206.98,491.20 208.18,493.00 209.14,436.00 209.98,427.60 211.18,436.00 212.14,427.60 212.98,500.80 214.17,498.40 214.95,486.63 215.73,475.00 216.57,496.00 217.35,500.30 218.13,505.60 218.85,491.76 219.57,478.00 220.35,465.02 221.13,452.80 221.97,451.60 222.93,438.16 223.64,451.63 224.36,467.20 224.72,476.80 225.56,469.00 226.40,476.80 227.18,476.91 227.96,475.60 228.80,486.40 229.58,496.11 230.36,504.40 231.20,460.00 232.16,426.64 233.35,437.20 234.19,435.40 234.97,470.37 235.75,502.60 236.95,478.00 237.91,475.60 238.63,485.84 239.35,496.00 240.55,512.56 241.45,489.56 242.35,467.20 243.25,452.96 244.14,439.60 245.04,454.56 245.94,472.00 247.14,486.40 248.34,478.60 249.30,487.60 250.14,478.60 250.74,505.00 251.64,504.59 252.54,502.60 253.73,460.00 254.45,439.44 255.17,420.64 255.95,429.17 256.73,439.60 257.93,475.00 258.77,450.40 259.73,450.40 260.93,485.20 261.65,480.24 262.37,475.60 263.57,496.96 264.76,460.00 265.54,447.09 266.32,431.80 267.28,457.60 268.12,490.60 269.32,476.80 270.04,470.39 270.76,463.60 271.72,484.00 272.68,505.00 273.40,481.68 274.11,460.00 275.11,445.33 276.11,431.80 277.07,439.60 277.91,424.60 279.11,444.40 279.89,452.10 280.67,458.80 281.51,481.60 282.41,477.27 283.31,473.20 283.66,492.40 284.50,486.40 285.34,502.00 286.66,467.20 287.38,450.98 288.10,436.00 289.30,457.60 290.50,472.00 291.70,469.60 292.90,460.60 293.80,477.82 294.69,495.40 295.89,488.80 297.09,457.60 298.17,443.50 299.25,428.20 300.09,436.00 301.05,432.16 301.89,460.00 302.49,490.00 303.21,482.58 303.93,472.00 304.88,492.40 305.78,499.80 306.68,509.20 307.88,478.00 308.66,465.50 309.44,454.00 310.64,467.20 311.48,474.40 312.20,467.76 312.92,462.40 313.88,481.00 314.83,462.40 315.67,449.20 316.63,510.40 317.35,500.06 318.07,493.60 318.97,467.06 319.87,442.00 321.07,418.60 321.85,438.48 322.63,460.00 323.83,493.60 324.90,451.60 325.86,467.20 327.06,490.00 327.78,494.20 328.50,496.60 329.46,460.00 330.42,433.00 331.02,433.60 332.10,406.71 333.06,439.60 334.26,475.60 335.15,473.69 336.05,472.00 336.83,467.40 337.61,465.40 338.21,488.80 339.41,476.80 340.49,495.40 341.45,448.00 342.29,419.80 343.07,433.22 343.85,445.60 345.04,467.20 345.88,478.60 347.20,467.20 348.04,483.40 348.94,480.71 349.84,478.60 350.56,485.91 351.28,496.00 352.48,478.00 353.44,454.00 354.28,452.80 355.00,429.04 356.07,460.00 357.03,498.64 357.87,478.00 358.83,466.00 360.03,481.60 360.81,496.42 361.59,512.20 362.31,491.63 363.03,472.00 364.23,439.60 365.19,422.80 366.26,445.60 366.98,446.80 367.70,467.70 368.42,490.00 369.20,482.82 369.98,475.60 371.06,491.20 371.84,498.28 372.62,508.96 373.52,484.27 374.42,460.00 375.38,433.60 376.21,428.20 377.41,448.00 378.01,485.20 379.21,478.00 380.11,478.81 381.01,478.00 381.91,491.28 382.81,503.20 384.01,496.00 384.71,489.69 385.41,481.60 386.30,448.90 387.20,414.40 387.92,432.39 388.64,448.00 389.60,460.00 390.80,481.60 391.40,467.20 392.18,478.31 392.96,491.20 393.80,499.98 394.64,507.40 395.42,489.41 396.19,474.40 397.15,469.60 398.35,421.84 399.43,443.20 400.39,442.60 400.99,478.00 401.83,466.00 402.61,480.52 403.39,496.00 404.59,480.40 405.37,486.97 406.14,496.60 406.86,479.14 407.58,460.00 408.42,433.60 409.38,429.40 410.28,443.97 411.18,456.40 412.26,459.24 413.34,462.40 414.18,474.40 414.98,481.50 415.78,491.22 416.57,497.44 417.47,483.64 418.37,469.60 419.37,460.10 420.37,439.37 421.37,430.60 422.57,431.44 423.77,496.00 424.37,478.00 425.33,494.80 426.05,499.05 426.76,502.60 427.96,467.20 428.56,466.00 429.40,475.60 430.36,434.80 431.26,442.35 432.16,446.80 433.36,505.60 433.96,469.60 434.86,469.38 435.76,470.80 436.65,484.72 437.55,497.20 438.75,492.40 439.95,493.60 440.91,448.00 441.51,445.00 442.23,448.78 442.95,452.80 443.73,459.62 444.51,463.60 445.35,479.20 446.19,463.60 446.96,479.59 447.74,494.80 448.64,485.14 449.54,474.40 450.74,495.40 451.58,438.40 452.48,432.43 453.38,425.44 454.16,436.92 454.94,448.00 456.14,479.20 456.73,469.60 457.93,469.60 458.53,491.20 459.31,483.78 460.09,478.60 460.93,478.60 461.53,492.40 462.43,467.11 463.33,439.60 464.23,431.60 465.13,425.80 465.85,440.09 466.57,454.00 467.52,479.80 468.72,469.00 469.74,482.87 470.76,495.76 472.08,490.00 472.92,491.20 474.12,430.60 475.32,430.60 476.22,443.43 477.11,457.60 478.01,473.02 478.91,488.20 479.51,469.00 480.41,476.23 481.31,481.60 482.03,490.70 482.75,499.84 483.53,482.81 484.31,467.20 485.27,419.20 486.35,415.00 487.12,429.17 487.90,448.00 489.10,480.40 490.00,466.12 490.90,453.40 491.50,492.40 492.40,487.73 493.30,484.00 494.50,496.00 495.20,483.59 495.90,472.00 497.10,448.60 498.29,456.40 499.49,451.60 500.39,465.83 501.29,481.60 502.07,476.80 502.85,471.40 503.69,500.80 504.49,497.38 505.29,491.67 506.09,488.80 506.81,452.44 507.52,415.00 508.48,444.40 509.68,437.20 510.46,464.72 511.24,493.60 512.14,477.46 513.04,461.80 514.06,475.83 515.08,486.40 515.68,481.60 516.88,494.20 518.07,460.00 518.85,442.40 519.63,423.40 520.35,454.77 521.07,488.20 521.97,474.94 522.87,461.80 523.71,479.20 524.67,474.40 525.87,492.40 526.77,493.45 527.67,493.60 528.86,456.40 529.66,453.48 530.46,444.59 531.26,440.56 532.46,475.60 533.06,458.80 533.86,466.07 534.66,481.72 535.46,490.00 536.06,466.00 536.96,487.82 537.86,508.60 538.75,485.75 539.65,462.40 540.25,445.60 541.45,456.40 542.41,439.60 543.25,464.80 544.45,456.40 545.35,469.79 546.25,484.00 546.85,475.60 547.75,487.33 548.64,499.36 549.54,491.35 550.44,484.00 551.64,448.00 552.48,431.20 553.68,448.00 554.64,451.60 555.24,491.80 556.14,492.98 557.04,493.00 558.00,465.40 559.01,478.35 560.03,492.40 561.23,445.60 562.03,441.40 562.83,432.27 563.63,427.00 564.83,445.60 565.43,449.20 566.33,476.29 567.23,502.60 568.13,482.43 569.02,463.60 569.98,512.80 570.82,488.80 572.02,492.40 573.22,448.00 573.94,438.58 574.66,427.00 575.62,432.40 576.52,450.16 577.42,469.00 578.61,481.00 579.33,474.14 580.05,466.60 580.95,485.50 581.85,505.60 582.63,481.40 583.41,460.00 584.61,417.40 585.57,450.40 586.41,450.40 587.61,438.40 588.51,459.28 589.40,479.80 590.36,480.40 591.20,493.60 592.10,490.23 593.00,486.40 593.96,492.40 594.68,470.14 595.40,448.00 596.42,440.54 597.44,432.64 598.64,448.00 599.59,492.40 600.49,484.68 601.39,478.00 602.17,490.01 602.95,503.20 603.67,488.07 604.39,473.20 604.83,496.00 605.61,476.53 606.39,454.00 607.35,437.20 608.55,454.00 609.38,484.00 609.98,503.80 611.18,464.80 612.38,492.40 613.16,496.35 613.94,499.00 614.78,479.80 615.98,478.60 617.18,422.80 618.38,432.40 619.57,409.00 620.77,488.80 621.97,488.20 623.17,482.80 623.97,484.01 624.77,488.22 625.57,489.40 626.77,484.00 627.67,471.62 628.57,460.00 629.52,452.80 630.36,474.40 631.56,469.00 632.16,488.80 633.06,483.03 633.96,478.00 634.86,482.89 635.76,486.40 636.96,488.80 637.86,464.98 638.76,442.00 639.95,436.00 640.55,417.40 641.75,422.20 642.95,494.80 644.15,478.00 645.05,469.46 645.95,463.60 647.15,491.80 647.75,470.80 648.71,470.80 649.55,460.00 650.38,419.20 651.16,432.87 651.94,448.00 653.14,433.60 653.74,448.00 654.64,467.87 655.54,487.60 656.32,484.40 657.10,481.00 658.00,491.89 658.90,500.80 659.79,466.03 660.69,432.40 661.53,439.60 662.73,422.56 663.63,446.07 664.53,468.40 665.33,474.66 666.13,486.36 666.93,492.40 667.77,493.60 668.97,508.60 670.28,494.80 671.12,493.60 672.32,445.60 673.28,433.36 674.00,444.35 674.72,454.00 675.92,460.00 676.52,489.40 677.42,482.29 678.32,474.40 679.52,467.20 680.71,500.20 681.43,479.41 682.15,460.00 683.11,439.00 683.95,445.00 684.73,434.76 685.51,422.80 686.41,455.72 687.31,490.60 688.51,467.20 689.35,454.00 690.13,474.45 690.90,494.80 691.80,487.60 692.70,480.40 693.90,442.00 695.10,418.00 696.30,420.40 696.90,443.20 698.10,488.20 699.00,478.34 699.90,467.80 701.09,499.60 702.29,490.00 702.89,488.80 703.49,497.80 704.39,478.32 705.29,460.00 706.01,450.37 706.73,440.80 707.51,462.89 708.29,485.20 709.31,480.00 710.33,473.20 711.10,477.96 711.88,484.00 712.96,492.16 714.04,500.20 714.86,485.89 715.68,472.00 716.58,448.76 717.48,427.60 718.44,424.60 719.28,436.00 720.48,476.80 721.67,484.00 722.87,485.80 724.07,502.60 724.97,495.44 725.87,484.00 726.77,479.14 727.67,474.40 728.63,440.80 729.47,436.60 730.67,454.00 731.86,482.80 733.06,465.40 734.26,482.80 735.22,496.96 736.30,484.00 737.50,436.00 738.82,407.20 739.54,421.01 740.26,437.20 741.45,438.40 742.65,472.00 743.85,472.00 744.85,479.79 745.85,491.48 746.85,499.00 747.75,485.80 748.65,472.00 749.85,442.00 750.69,421.84 751.46,438.61 752.24,454.00 753.44,469.60 754.04,480.40 754.76,471.18 755.48,463.00 756.26,482.16 757.04,502.00 757.82,486.57 758.60,472.00 759.62,450.00 760.64,428.20 761.47,433.60 762.67,420.40 763.45,443.40 764.23,469.00 765.43,451.60 766.63,479.20 767.23,469.60 768.19,507.76 769.03,469.60 769.63,479.20 770.83,442.00 771.72,425.11 772.62,410.20 773.82,436.00 774.42,418.60 775.62,460.00 776.82,499.00 777.72,494.99 778.62,491.20 779.34,501.63 780.06,510.40 780.84,479.71 781.61,448.00 782.33,431.26 783.05,411.76 783.83,421.44 784.61,430.00 785.41,441.14 786.21,465.15 787.01,476.80 788.21,459.40 789.41,489.40 790.25,486.40 791.21,502.00 792.10,470.38 793.00,442.00 793.90,426.95 794.80,413.44 795.70,429.90 796.60,448.00 797.80,472.60 798.70,471.02 799.60,469.00 800.40,479.88 801.20,500.19 801.99,511.00 802.89,487.43 803.79,464.80 804.39,480.40 805.11,457.86 805.83,437.80 806.61,454.80 807.39,472.00 808.59,491.80 809.49,485.70 810.39,479.20 811.29,487.36 812.18,494.80 813.08,491.47 813.98,489.40 815.18,472.00 815.96,462.19 816.74,449.20 817.58,467.20 818.54,442.96 819.26,468.64 819.98,492.40 821.18,488.80 822.37,473.20 823.27,487.52 824.17,502.00 824.87,486.58 825.57,472.00 826.77,422.80 827.49,435.14 828.21,448.00 828.99,460.42 829.77,472.60 830.55,468.69 831.33,464.80 832.34,468.19 833.36,470.80 834.26,485.82 835.16,499.60 836.12,472.00 836.96,439.00 838.16,446.20 838.76,433.60 839.72,438.40 840.60,452.08 841.48,477.73 842.36,489.40 843.55,465.40 844.33,481.69 845.11,498.16 845.99,494.09 846.87,484.47 847.75,480.40 848.95,460.00 849.85,445.43 850.75,431.80 851.65,458.53 852.55,482.20 853.32,474.93 854.10,468.40 854.82,479.59 855.54,487.60 856.74,485.80 857.46,494.52 858.18,503.80 858.90,437.80 859.80,426.90 860.70,415.60 861.54,430.00 862.74,431.80 863.75,461.05 864.77,488.56"/>
<line class="tk" x1="149.5" y1="519.50" x2="149.5" y2="524.50"/>
<line class="tk" x1="259.5" y1="519.50" x2="259.5" y2="524.50"/>
<line class="tk" x1="369.5" y1="519.50" x2="369.5" y2="524.50"/>
<line class="tk" x1="479.5" y1="519.50" x2="479.5" y2="524.50"/>
<line class="tk" x1="590.5" y1="519.50" x2="590.5" y2="524.50"/>
<line class="tk" x1="700.5" y1="519.50" x2="700.5" y2="524.50"/>
<line class="tk" x1="810.5" y1="519.50" x2="810.5" y2="524.50"/>
<line class="tk" x1="120.50" y1="485.5" x2="125.50" y2="485.5"/>
<line class="tk" x1="120.50" y1="439.5" x2="125.50" y2="439.5"/>
<rect class="sp" x="125.5" y="401.5" width="775.0" height="118.0"/>
<g class="g">
<text class="t" transform="translate(115.70,556.52) rotate(-30)" textLength="35.3" lengthAdjust="spacingAndGlyphs">1950</text>
<text class="t" transform="translate(225.92,556.52) rotate(-30)" textLength="35.3" lengthAdjust="spacingAndGlyphs">1960</text>
<text class="t" transform="translate(336.17,556.52) rotate(-30)" textLength="35.3" lengthAdjust="spacingAndGlyphs">1970</text>
<text class="t" transform="translate(446.38,556.52) rotate(-30)" textLength="35.3" lengthAdjust="spacingAndGlyphs">1980</text>
<text class="t" transform="translate(556.63,556.52) rotate(-30)" textLength="35.3" lengthAdjust="spacingAndGlyphs">1990</text>
<text class="t" transform="translate(666.85,556.52) rotate(-30)" textLength="35.3" lengthAdjust="spacingAndGlyphs">2000</text>
<text class="t" transform="translate(777.09,556.52) rotate(-30)" textLength="35.3" lengthAdjust="spacingAndGlyphs">2010</text>
<text class="t" x="115.28" y="490.99" text-anchor="end" textLength="17.66" lengthAdjust="spacingAndGlyphs">10</text>
<text class="t" x="115.28" y="444.81" text-anchor="end" textLength="17.66" lengthAdjust="spacingAndGlyphs">15</text>
<text class="t" transform="translate(88.00,461.00) rotate(-90)" text-anchor="middle" textLength="59.30" lengthAdjust="spacingAndGlyphs">fieldmax</text>
</g>
</g>
<g>
<rect x="125.00" y="542.07" width="775.00" height="117.24" fill="#fff"/>
<line class="ln" style="stroke-width:2.083" x1="160.04" y1="601.00" x2="864.96" y2="601.00"/>
<line class="tk" x1="149.5" y1="659.50" x2="149.5" y2="664.50"/>
<line class="tk" x1="259.5" y1="659.50" x2="259.5" y2="664.50"/>
<line class="tk" x1="369.5" y1="659.50" x2="369.5" y2="664.50"/>
<line class="tk" x1="479.5" y1="659.50" x2="479.5" y2="664.50"/>
<line class="tk" x1="590.5" y1="659.50" x2="590.5" y2="664.50"/>
<line class="tk" x1="700.5" y1="659.50" x2="700.5" y2="664.50"/>
<line class="tk" x1="810.5" y1="659.50" x2="810.5" y2="664.50"/>
<line class="tk" x1="120.50" y1="654.5" x2="125.50" y2="654.5"/>
<line class="tk" x1="120.50" y1="601.5" x2="125.50" y2="601.5"/>
<line class="tk" x1="120.50" y1="547.5" x2="125.50" y2="547.5"/>
<rect class="sp" x="125.5" y="542.5" width="775.0" height="117.0"/>
<g class="g">
<text class="t" transform="translate(115.70,697.21) rotate(-30)" textLength="35.3" lengthAdjust="spacingAndGlyphs">1950</text>
<text class="t" transform="translate(225.92,697.21) rotate(-30)" textLength="35.3" lengthAdjust="spacingAndGlyphs">1960</text>
<text class="t" transform="translate(336.17,697.21) rotate(-30)" textLength="35.3" lengthAdjust="spacingAndGlyphs">1970</text>
<text class="t" transform="translate(446.38,697.21) rotate(-30)" textLength="35.3" lengthAdjust="spacingAndGlyphs">1980</text>
<text class="t" transform="translate(556.63,697.21) rotate(-30)" textLength="35.3" lengthAdjust="spacingAndGlyphs">1990</text>
<text class="t" transform="translate(666.85,697.21) rotate(-30)" textLength="35.3" lengthAdjust="spacingAndGlyphs">2000</text>
<text class="t" transform="translate(777.09,697.21) rotate(-30)" textLength="35.3" lengthAdjust="spacingAndGlyphs">2010</text>
<text class="t" x="115.28" y="659.48" text-anchor="end" textLength="42.54" lengthAdjust="spacingAndGlyphs">−0.05</text>
<text class="t" x="115.28" y="606.19" text-anchor="end" textLength="30.90" lengthAdjust="spacingAndGlyphs">0.00</text>
<text class="t" x="115.28" y="552.90" text-anchor="end" textLength="30.90" lengthAdjust="spacingAndGlyphs">0.05</text>
<text class="t" transform="translate(65.00,602.69) rotate(-90)" text-anchor="middle" textLength="84.00" lengthAdjust="spacingAndGlyphs">nummasked</text>
</g>
</g>
<g>
<rect x="125.00" y="682.76" width="775.00" height="117.24" fill="#fff"/>
<line class="ln" style="stroke-width:2.083" x1="160.04" y1="741.00" x2="864.96" y2="741.00"/>
<line class="tk" x1="149.5" y1="800.50" x2="149.5" y2="805.50"/>
<line class="tk" x1="259.5" y1="800.50" x2="259.5" y2="805.50"/>
<line class="tk" x1="369.5" y1="800.50" x2="369.5" y2="805.50"/>
<line class="tk" x1="479.5" y1="800.50" x2="479.5" y2="805.50"/>
<line class="tk" x1="590.5" y1="800.50" x2="590.5" y2="805.50"/>
<line class="tk" x1="700.5" y1="800.50" x2="700.5" y2="805.50"/>
<line class="tk" x1="810.5" y1="800.50" x2="810.5" y2="805.50"/>
<line class="tk" x1="120.50" y1="795.5" x2="125.50" y2="795.5"/>
<line class="tk" x1="120.50" y1="741.5" x2="125.50" y2="741.5"/>
<line class="tk" x1="120.50" y1="688.5" x2="125.50" y2="688.5"/>
<rect class="sp" x="125.5" y="683.5" width="775.0" height="117.0"/>
<g class="g">
<text class="t" transform="translate(115.70,837.90) rotate(-30)" textLength="35.3" lengthAdjust="spacingAndGlyphs">1950</text>
<text class="t" transform="translate(225.92,837.90) rotate(-30)" textLength="35.3" lengthAdjust="spacingAndGlyphs">1960</text>
<text class="t" transform="translate(336.17,837.90) rotate(-30)" textLength="35.3" lengthAdjust="spacingAndGlyphs">1970</text>
<text class="t" transform="translate(446.38,837.90) rotate(-30)" textLength="35.3" lengthAdjust="spacingAndGlyphs">1980</text>
<text class="t" transform="translate(556.63,837.90) rotate(-30)" textLength="35.3" lengthAdjust="spacingAndGlyphs">1990</text>
<text class="t" transform="translate(666.85,837.90) rotate(-30)" textLength="35.3" lengthAdjust="spacingAndGlyphs">2000</text>
<text class="t" transform="translate(777.09,837.90) rotate(-30)" textLength="35.3" lengthAdjust="spacingAndGlyphs">2010</text>
<text class="t" x="115.28" y="800.17" text-anchor="end" textLength="42.54" lengthAdjust="spacingAndGlyphs">−0.05</text>
<text class="t" x="115.28" y="746.88" text-anchor="end" textLength="30.90" lengthAdjust="spacingAndGlyphs">0.00</text>
<text class="t" x="115.28" y="693.59" text-anchor="end" textLength="30.90" lengthAdjust="spacingAndGlyphs">0.05</text>
<text class="t" transform="translate(65.00,743.38) rotate(-90)" text-anchor="middle" textLength="56.00" lengthAdjust="spacingAndGlyphs">numnan</text>
<text class="t" x="512.5" y="856.09" text-anchor="middle" textLength="64.5" lengthAdjust="spacingAndGlyphs">validtime</text>
</g>
</g>
</svg>
</body></html>
